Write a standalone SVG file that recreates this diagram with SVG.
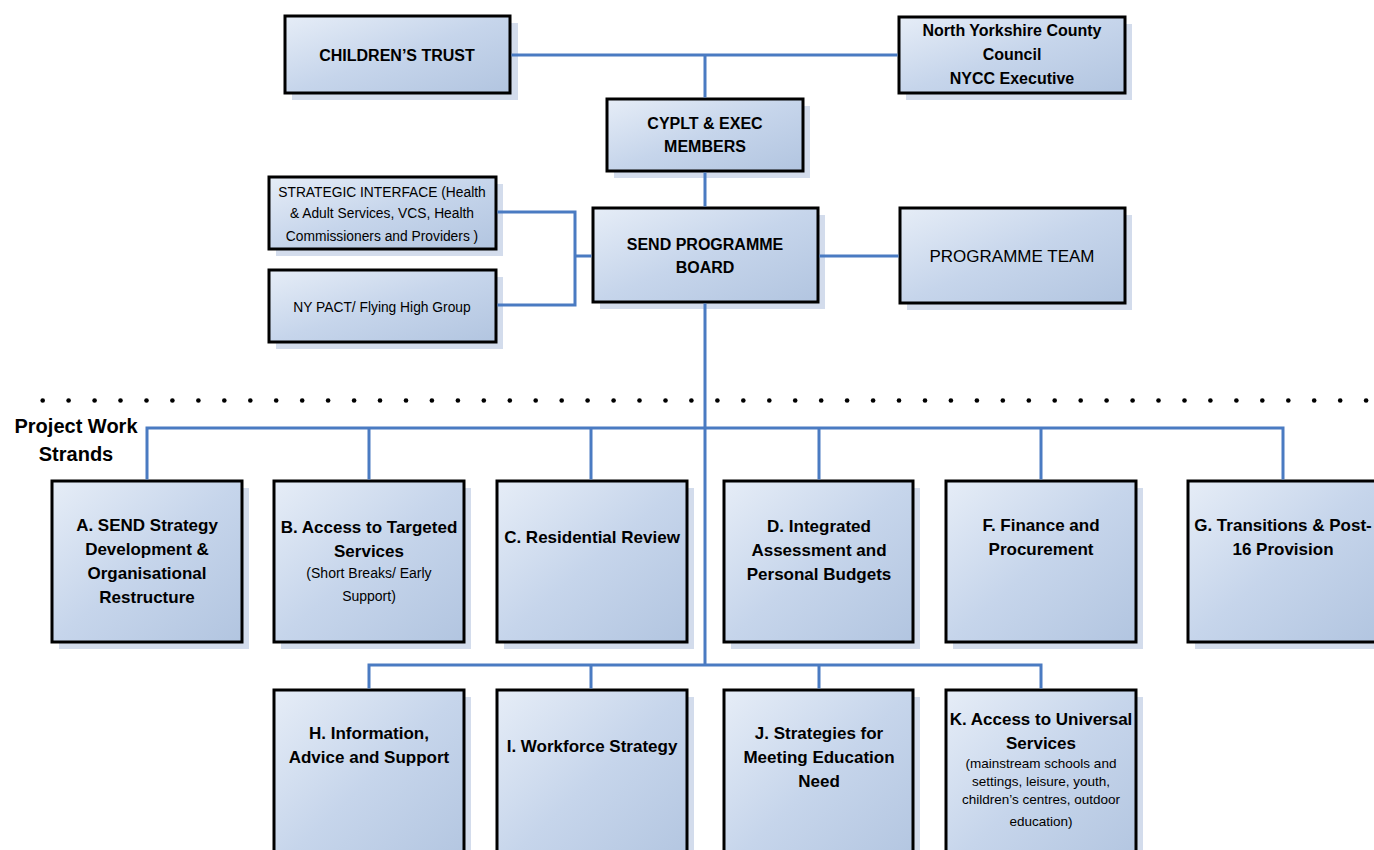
<svg xmlns="http://www.w3.org/2000/svg" width="1374" height="850" viewBox="0 0 1374 850">
<defs>
<linearGradient id="g" x1="0" y1="0" x2="1" y2="1">
<stop offset="0" stop-color="#e6edf7"/>
<stop offset="0.5" stop-color="#c6d5eb"/>
<stop offset="1" stop-color="#b2c5e0"/>
</linearGradient>
<style>
.sh{fill:#d3dcec}
.bx{fill:url(#g);stroke:#000;stroke-width:3}
.b{font-family:"Liberation Sans",Arial,sans-serif;font-weight:bold;font-size:17px;fill:#000;text-anchor:middle}
.t{font-family:"Liberation Sans",Arial,sans-serif;font-weight:bold;font-size:16px;fill:#000;text-anchor:middle}
.r{font-family:"Liberation Sans",Arial,sans-serif;font-size:14px;fill:#000;text-anchor:middle}
.c{fill:none;stroke:#4a7bc2;stroke-width:3}
</style>
</defs>
<rect width="1374" height="850" fill="#fff"/>
<g id="dots" fill="#000">
<circle cx="42.7" cy="400.5" r="2.3"/><circle cx="68.6" cy="400.5" r="2.3"/><circle cx="94.6" cy="400.5" r="2.3"/><circle cx="120.5" cy="400.5" r="2.3"/><circle cx="146.5" cy="400.5" r="2.3"/><circle cx="172.4" cy="400.5" r="2.3"/><circle cx="198.4" cy="400.5" r="2.3"/><circle cx="224.3" cy="400.5" r="2.3"/><circle cx="250.3" cy="400.5" r="2.3"/><circle cx="276.2" cy="400.5" r="2.3"/><circle cx="302.2" cy="400.5" r="2.3"/><circle cx="328.1" cy="400.5" r="2.3"/><circle cx="354.1" cy="400.5" r="2.3"/><circle cx="380.0" cy="400.5" r="2.3"/><circle cx="406.0" cy="400.5" r="2.3"/><circle cx="431.9" cy="400.5" r="2.3"/><circle cx="457.9" cy="400.5" r="2.3"/><circle cx="483.8" cy="400.5" r="2.3"/><circle cx="509.8" cy="400.5" r="2.3"/><circle cx="535.7" cy="400.5" r="2.3"/><circle cx="561.7" cy="400.5" r="2.3"/><circle cx="587.6" cy="400.5" r="2.3"/><circle cx="613.6" cy="400.5" r="2.3"/><circle cx="639.5" cy="400.5" r="2.3"/><circle cx="665.5" cy="400.5" r="2.3"/><circle cx="691.4" cy="400.5" r="2.3"/><circle cx="717.4" cy="400.5" r="2.3"/><circle cx="743.3" cy="400.5" r="2.3"/><circle cx="769.3" cy="400.5" r="2.3"/><circle cx="795.2" cy="400.5" r="2.3"/><circle cx="821.2" cy="400.5" r="2.3"/><circle cx="847.1" cy="400.5" r="2.3"/><circle cx="873.1" cy="400.5" r="2.3"/><circle cx="899.0" cy="400.5" r="2.3"/><circle cx="925.0" cy="400.5" r="2.3"/><circle cx="950.9" cy="400.5" r="2.3"/><circle cx="976.9" cy="400.5" r="2.3"/><circle cx="1002.8" cy="400.5" r="2.3"/><circle cx="1028.8" cy="400.5" r="2.3"/><circle cx="1054.7" cy="400.5" r="2.3"/><circle cx="1080.7" cy="400.5" r="2.3"/><circle cx="1106.6" cy="400.5" r="2.3"/><circle cx="1132.6" cy="400.5" r="2.3"/><circle cx="1158.5" cy="400.5" r="2.3"/><circle cx="1184.5" cy="400.5" r="2.3"/><circle cx="1210.4" cy="400.5" r="2.3"/><circle cx="1236.4" cy="400.5" r="2.3"/><circle cx="1262.3" cy="400.5" r="2.3"/><circle cx="1288.3" cy="400.5" r="2.3"/><circle cx="1314.2" cy="400.5" r="2.3"/><circle cx="1340.2" cy="400.5" r="2.3"/><circle cx="1366.1" cy="400.5" r="2.3"/>
</g>
<g id="label-strands">
<text class="b" x="76" y="433" style="font-size:20px">Project Work</text>
<text class="b" x="76" y="461" style="font-size:20px">Strands</text>
</g>
<g id="n-childrens-trust">
<rect class="sh" x="292" y="23" width="226" height="77"/>
<rect class="bx" x="285" y="16" width="225" height="77"/>
<text class="t" x="397" y="61">CHILDREN’S TRUST</text>
</g>
<g id="n-nycc">
<rect class="sh" x="906" y="24" width="226" height="76"/>
<rect class="bx" x="899" y="17" width="226" height="76"/>
<text class="t" x="1012" y="36">North Yorkshire County</text>
<text class="t" x="1012" y="60">Council</text>
<text class="t" x="1012" y="84">NYCC Executive</text>
</g>
<g id="n-cyplt">
<rect class="sh" x="614" y="106" width="196" height="72"/>
<rect class="bx" x="607" y="99" width="196" height="72"/>
<text class="t" x="705" y="129">CYPLT &amp; EXEC</text>
<text class="t" x="705" y="152">MEMBERS</text>
</g>
<g id="n-send-board">
<rect class="sh" x="600" y="215" width="225" height="94"/>
<rect class="bx" x="593" y="208" width="225" height="94"/>
<text class="t" x="705" y="250">SEND PROGRAMME</text>
<text class="t" x="705" y="273">BOARD</text>
</g>
<g id="n-strategic-interface">
<rect class="sh" x="276" y="184" width="227" height="72"/>
<rect class="bx" x="269" y="177" width="227" height="72"/>
<text class="r" x="382" y="197" style="font-size:13.8px">STRATEGIC INTERFACE (Health</text>
<text class="r" x="382" y="218" style="font-size:13.8px">&amp; Adult Services, VCS, Health</text>
<text class="r" x="382" y="241" style="font-size:13.8px">Commissioners and Providers )</text>
</g>
<g id="n-ny-pact">
<rect class="sh" x="276" y="277" width="227" height="72"/>
<rect class="bx" x="269" y="270" width="227" height="72"/>
<text class="r" x="382" y="312" style="font-size:13.8px">NY PACT/ Flying High Group</text>
</g>
<g id="n-programme-team">
<rect class="sh" x="907" y="215" width="225" height="95"/>
<rect class="bx" x="900" y="208" width="225" height="95"/>
<text class="r" x="1012" y="262" style="font-size:17px">PROGRAMME TEAM</text>
</g>
<g id="n-a">
<rect class="sh" x="59" y="488" width="190" height="161"/>
<rect class="bx" x="52" y="481" width="190" height="161"/>
<text class="b" x="147" y="531">A. SEND Strategy</text>
<text class="b" x="147" y="555">Development &amp;</text>
<text class="b" x="147" y="579">Organisational</text>
<text class="b" x="147" y="603">Restructure</text>
</g>
<g id="n-b">
<rect class="sh" x="281" y="488" width="190" height="161"/>
<rect class="bx" x="274" y="481" width="190" height="161"/>
<text class="b" x="369" y="533">B. Access to Targeted</text>
<text class="b" x="369" y="557">Services</text>
<text class="r" x="369" y="578">(Short Breaks/ Early</text>
<text class="r" x="369" y="601">Support)</text>
</g>
<g id="n-c">
<rect class="sh" x="504" y="488" width="190" height="161"/>
<rect class="bx" x="497" y="481" width="190" height="161"/>
<text class="b" x="592" y="543">C. Residential Review</text>
</g>
<g id="n-d">
<rect class="sh" x="731" y="488" width="189" height="161"/>
<rect class="bx" x="724" y="481" width="189" height="161"/>
<text class="b" x="819" y="532">D. Integrated</text>
<text class="b" x="819" y="556">Assessment and</text>
<text class="b" x="819" y="580">Personal Budgets</text>
</g>
<g id="n-f">
<rect class="sh" x="953" y="488" width="190" height="161"/>
<rect class="bx" x="946" y="481" width="190" height="161"/>
<text class="b" x="1041" y="531">F. Finance and</text>
<text class="b" x="1041" y="555">Procurement</text>
</g>
<g id="n-g">
<rect class="sh" x="1195" y="488" width="190" height="161"/>
<rect class="bx" x="1188" y="481" width="190" height="161"/>
<text class="b" x="1283" y="531">G. Transitions &amp; Post-</text>
<text class="b" x="1283" y="555">16 Provision</text>
</g>
<g id="n-h">
<rect class="sh" x="281" y="697" width="190" height="180"/>
<rect class="bx" x="274" y="690" width="190" height="180"/>
<text class="b" x="369" y="739">H. Information,</text>
<text class="b" x="369" y="763">Advice and Support</text>
</g>
<g id="n-i">
<rect class="sh" x="504" y="697" width="190" height="180"/>
<rect class="bx" x="497" y="690" width="190" height="180"/>
<text class="b" x="592" y="752">I. Workforce Strategy</text>
</g>
<g id="n-j">
<rect class="sh" x="731" y="697" width="189" height="180"/>
<rect class="bx" x="724" y="690" width="189" height="180"/>
<text class="b" x="819" y="739">J. Strategies for</text>
<text class="b" x="819" y="763">Meeting Education</text>
<text class="b" x="819" y="787">Need</text>
</g>
<g id="n-k">
<rect class="sh" x="953" y="697" width="190" height="180"/>
<rect class="bx" x="946" y="690" width="190" height="180"/>
<text class="b" x="1041" y="725">K. Access to Universal</text>
<text class="b" x="1041" y="749">Services</text>
<text class="r" x="1041" y="768" style="font-size:13.5px">(mainstream schools and</text>
<text class="r" x="1041" y="786" style="font-size:13.5px">settings, leisure, youth,</text>
<text class="r" x="1041" y="804" style="font-size:13.5px">children’s centres, outdoor</text>
<text class="r" x="1041" y="826" style="font-size:13.5px">education)</text>
</g>
<g id="connectors">
<path class="c" d="M511.5 55H897.5M705 55V97.5M705 172.5V206.5"/>
<path class="c" d="M497.5 212H575V305H497.5M575 256H591.5"/>
<path class="c" d="M819.5 256H898.5"/>
<path class="c" d="M705 303.5V665"/>
<path class="c" d="M147 479.5V428H1283V479.5M369 428V479.5M591 428V479.5M819 428V479.5M1041 428V479.5"/>
<path class="c" d="M369 688.5V665H1041V688.5M591 665V688.5M819 665V688.5"/>
</g>
</svg>
